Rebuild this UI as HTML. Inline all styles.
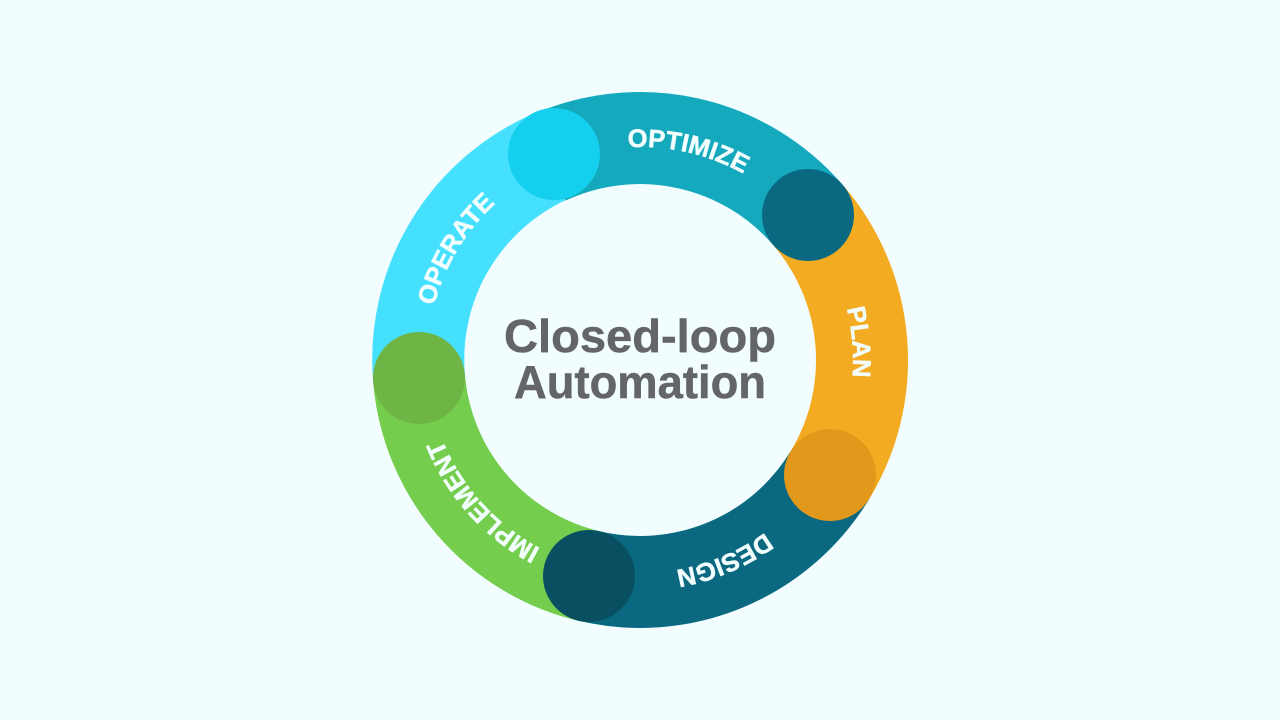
<!DOCTYPE html>
<html lang="en">
<head>
<meta charset="utf-8">
<title>Closed-loop Automation</title>
<style>
html,body{margin:0;padding:0;width:1280px;height:720px;overflow:hidden;background:#f1fdfe}
svg{display:block}
text{font-family:"Liberation Sans",Arial,sans-serif;font-weight:700}
.l{fill:#f2fdfd;stroke:#f2fdfd;stroke-width:.5px;font-size:25.5px;text-anchor:middle}
.c{fill:#636569;stroke:#636569;stroke-width:.5px;font-size:46px}
</style>
</head>
<body>
<svg width="1280" height="720" viewBox="0 0 1280 720" xmlns="http://www.w3.org/2000/svg">
<defs>
<path id="tp" d="M427 360A213 213 0 0 1 853 360"/>
</defs>
<rect width="1280" height="720" fill="#f1fdfe"/>
<g fill="none" stroke-width="92">
<path d="M419 378A222 222 0 0 1 554 155" stroke="#45e0fd"/>
<path d="M546.2 158.8A222 222 0 0 1 808 215" stroke="#15a9bd"/>
<path d="M808 215A222 222 0 0 1 830 475" stroke="#f3ab21"/>
<path d="M830 475A222 222 0 0 1 589 576" stroke="#0a6880"/>
<path d="M589 576A222 222 0 0 1 419 378" stroke="#74cd4d"/>
</g>
<circle cx="554" cy="154" r="46" fill="#14cfee"/>
<circle cx="808" cy="215" r="46" fill="#0a6880"/>
<circle cx="830" cy="475" r="46" fill="#e2981b"/>
<circle cx="589" cy="576" r="46" fill="#084f62"/>
<circle cx="419" cy="378" r="46" fill="#6fb546"/>
<g transform="rotate(12.9 640 360)"><text class="l"><textPath href="#tp" startOffset="50%">OPTIMIZE</textPath></text></g>
<g transform="rotate(85.3 640 360)"><text class="l"><textPath href="#tp" startOffset="50%">PLAN</textPath></text></g>
<g transform="rotate(157.2 640 360)"><text class="l"><textPath href="#tp" startOffset="50%">DESIGN</textPath></text></g>
<g transform="rotate(228 640 360)"><text class="l"><textPath href="#tp" startOffset="50%">IMPLEMENT</textPath></text></g>
<g transform="rotate(301 640 360)"><text class="l"><textPath href="#tp" startOffset="50%">OPERATE</textPath></text></g>
<text class="c" x="504" y="352" textLength="272" lengthAdjust="spacingAndGlyphs">Closed-loop</text>
<text class="c" x="514" y="398" textLength="252" lengthAdjust="spacingAndGlyphs">Automation</text>
</svg>
</body>
</html>
